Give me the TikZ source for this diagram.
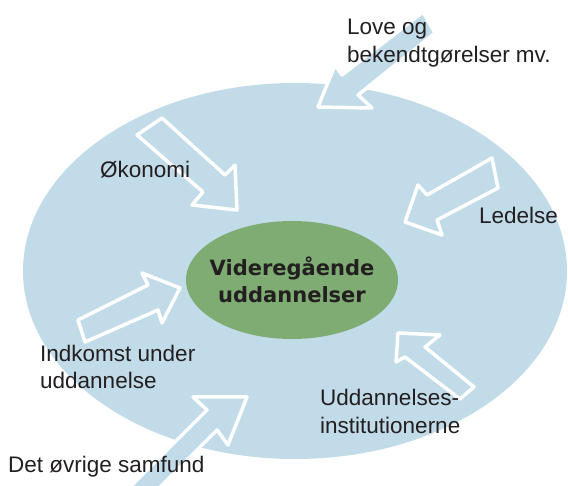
\documentclass[tikz,border=0pt]{standalone}
\usepackage{fontspec}
\setmainfont{Liberation Sans}
\newfontfamily\boldverd{DejaVu Sans}
\usetikzlibrary{shapes.geometric}
\definecolor{skyfill}{RGB}{194,219,232}
\definecolor{leafgreen}{RGB}{126,172,115}
\definecolor{inkdark}{RGB}{35,31,32}
\tikzset{
  blockarrow/.style={fill=skyfill, draw=white, line width=3.5pt, line join=round},
  lbl/.style={anchor=base west, inner sep=0pt, align=left, text=inkdark,
    font=\fontsize{22.5}{28}\selectfont}
}
\begin{document}
\begin{tikzpicture}[x=1pt,y=-1pt]
\useasboundingbox (0,0) rectangle (568,486);
\clip (0,0) rectangle (568,486);
\node[ellipse, fill=skyfill, minimum width=544pt, minimum height=376pt, inner sep=0pt] (outer) at (295,271) {};
\node[ellipse, fill=leafgreen, minimum width=212pt, minimum height=118pt, inner sep=0pt] (core) at (292,280) {};
\node[align=center, inner sep=0pt, text=inkdark, font=\boldverd\bfseries\fontsize{21}{27}\selectfont] (coretext) at (core.center) {Videregående\\uddannelser};
% arrows
\draw[blockarrow] (423,12) -- (342,75) -- (335,65) -- (318,107) -- (372,108) -- (358,95) -- (435,33) -- cycle;
\draw[blockarrow] (162,118) -- (225,175) -- (235,165) -- (237,210) -- (192,205) -- (203,192) -- (137,135) -- cycle;
\draw[blockarrow] (492,158) -- (427,195) -- (418,185) -- (405,222) -- (442,235) -- (437,220) -- (498,188) -- cycle;
\draw[blockarrow] (78,320) -- (148,285) -- (142,273) -- (180,288) -- (162,323) -- (158,310) -- (85,342) -- cycle;
\draw[blockarrow] (474,387) -- (425,347) -- (440,335) -- (398,333) -- (396,362) -- (405,357) -- (460,399) -- cycle;
\draw[blockarrow] (117,500) -- (207,410) -- (193,397) -- (247,397) -- (228,445) -- (217,430) -- (147,500) -- cycle;
% labels (base anchor = baseline of last line)
\node[lbl] (love) at (347,63) {Love og\\bekendtgørelser mv.};
\node[lbl] (okonomi) at (100,178) {Økonomi};
\node[lbl] (ledelse) at (479,224) {Ledelse};
\node[lbl] (indkomst) at (40,389) {Indkomst under\\uddannelse};
\node[lbl] (inst) at (320,433) {Uddannelses-\\institutionerne};
\node[lbl] (samfund) at (8,472) {Det øvrige samfund};
\end{tikzpicture}
\end{document}
